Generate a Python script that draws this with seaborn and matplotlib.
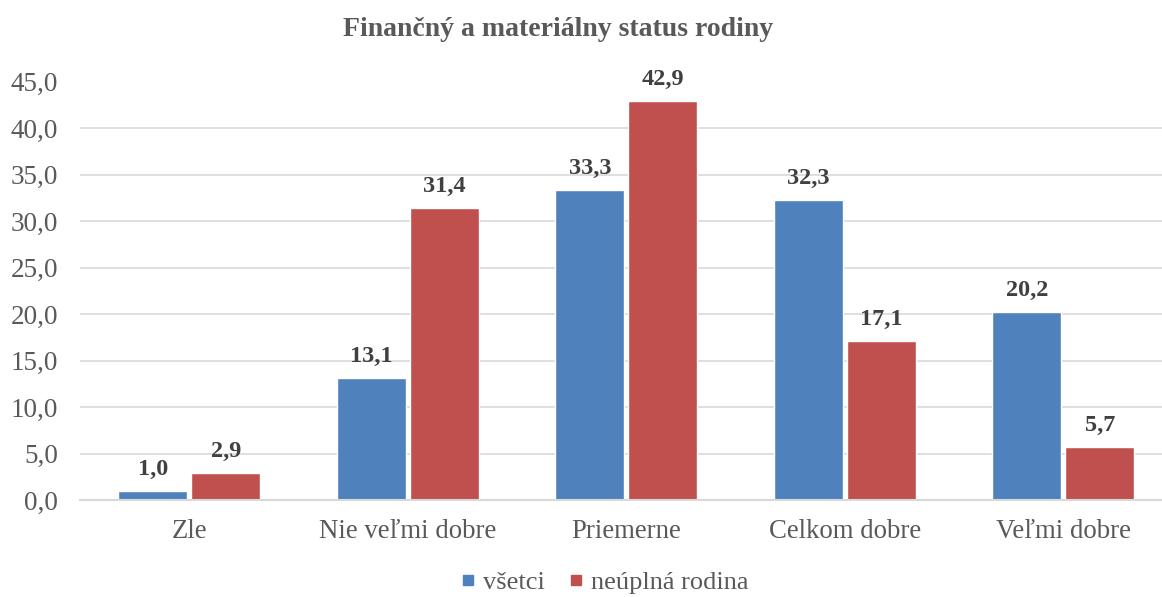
import pandas as pd
import matplotlib
matplotlib.use("Agg")
import matplotlib.pyplot as plt
from matplotlib.lines import Line2D
from matplotlib.ticker import FixedLocator
import seaborn as sns

categories = ["Zle", "Nie veľmi dobre", "Priemerne", "Celkom dobre", "Veľmi dobre"]
series = ["všetci", "neúplná rodina"]
vsetci = [1.0, 13.1, 33.3, 32.3, 20.2]
neuplna = [2.9, 31.4, 42.9, 17.1, 5.7]
y_ticks = [0, 5, 10, 15, 20, 25, 30, 35, 40, 45]

colors = ["#4F81BD", "#C0504D"]
gray = "#595959"

df = pd.DataFrame({
    "kategoria": categories * 2,
    "seria": [series[0]] * len(categories) + [series[1]] * len(categories),
    "hodnota": vsetci + neuplna,
})

sns.set_style("white")
plt.rcParams["font.family"] = ["Liberation Serif", "DejaVu Serif"]

fig = plt.figure(figsize=(11.62, 5.97), dpi=100)
# plot area runs slightly past the right edge, like the cropped original
ax = fig.add_axes([80 / 1162, 1 - 500 / 597, 1092.5 / 1162, 418.5 / 597])

sns.barplot(data=df, x="kategoria", y="hodnota", hue="seria", order=categories,
            hue_order=series, palette=colors, width=0.668, gap=0.054,
            edgecolor="white", linewidth=1, saturation=1, legend=False, ax=ax, zorder=3)

for cont in ax.containers:
    labels = [f"{b.get_height():.1f}".replace(".", ",") for b in cont]
    ax.bar_label(cont, labels=labels, padding=8, fontsize=17.5, fontweight="bold",
                 color="#404040", zorder=5)

ax.set_ylim(0, 45)
ax.set_xlim(-0.5, len(categories) - 0.5)
ax.set_yticks(y_ticks)
ax.set_yticklabels([f"{t:.1f}".replace(".", ",") for t in y_ticks])
ax.yaxis.grid(True, color="#D9D9D9", linewidth=1.2, zorder=0)
ax.set_axisbelow(True)

for s in ["top", "right", "left"]:
    ax.spines[s].set_visible(False)
ax.spines["bottom"].set_color("#D9D9D9")
ax.spines["bottom"].set_linewidth(1.5)
ax.spines["bottom"].set_zorder(4)

ax.tick_params(axis="y", length=0, pad=16, labelsize=19.5, labelcolor=gray)
ax.tick_params(axis="x", which="major", length=0, pad=14, labelsize=19.3, labelcolor=gray)
ax.xaxis.set_minor_locator(FixedLocator([i - 0.5 for i in range(len(categories) + 1)]))
ax.tick_params(axis="x", which="minor", length=5, width=1.5, color="#D9D9D9", direction="out")
ax.set_xlabel("")
ax.set_ylabel("")

fig.text(558 / 1162, 1 - 30 / 597, "Finančný a materiálny status rodiny", ha="center",
         va="center", fontsize=20, fontweight="bold", color=gray)

handles = [Line2D([], [], marker="s", linestyle="", markersize=7, color=c) for c in colors]
fig.legend(handles, series, loc="center", bbox_to_anchor=(603 / 1162, 1 - 582 / 597),
           ncol=2, frameon=False, fontsize=19, labelcolor=gray, handletextpad=0.2,
           columnspacing=0.75, handlelength=0.8)

fig.savefig("out.png", dpi=100)
